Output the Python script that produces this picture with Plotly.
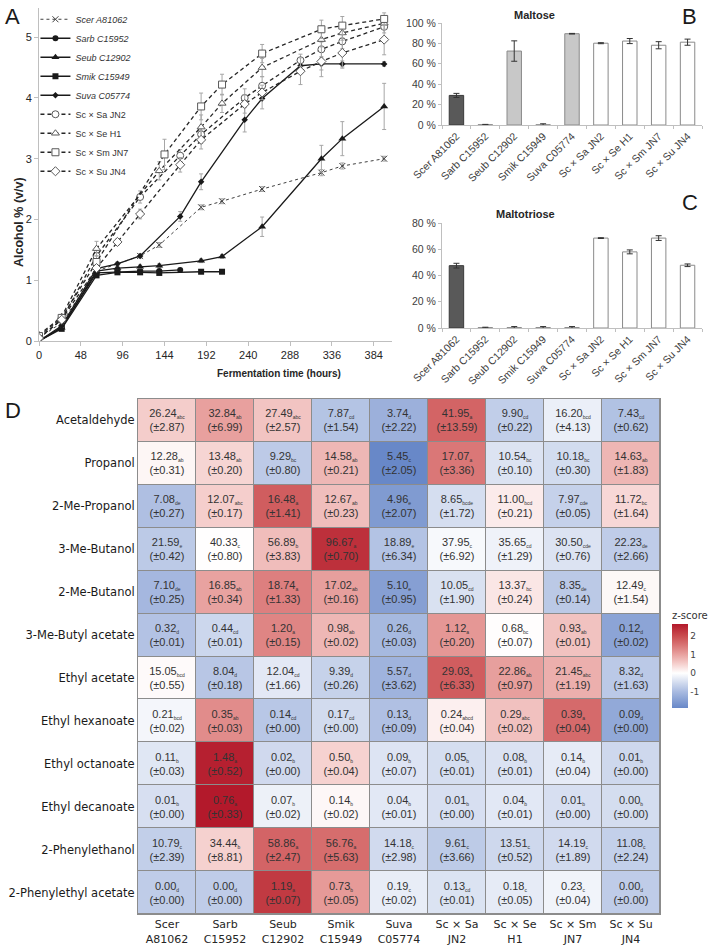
import numpy as np
import plotly.graph_objects as go

# ---- panel A: alcohol during fermentation ----
t_scer = [0, 26, 66, 116, 138, 186, 210, 256, 324, 348, 396]
v_scer = [0.05, 0.3, 1.15, 1.4, 1.58, 2.2, 2.3, 2.5, 2.77, 2.88, 3.0]
e_scer = [0.01, 0.02, 0.03, 0.03, 0.04, 0.04, 0.04, 0.04, 0.05, 0.05, 0.04]

t_sarb = [0, 26, 66, 90, 116, 138, 162]
v_sarb = [0.0, 0.22, 1.12, 1.14, 1.15, 1.15, 1.17]

t_seub = [0, 26, 66, 90, 116, 138, 186, 210, 256, 324, 348, 396]
v_seub = [0.0, 0.22, 1.15, 1.2, 1.22, 1.24, 1.32, 1.39, 1.88, 3.0, 3.33, 3.86]
e_seub = [0, 0.02, 0.03, 0.03, 0.03, 0.03, 0.03, 0.03, 0.16, 0.22, 0.28, 0.38]

t_smik = [0, 26, 66, 90, 116, 138, 186, 210]
v_smik = [0.0, 0.2, 1.08, 1.13, 1.13, 1.12, 1.14, 1.14]

t_suva = [0, 26, 66, 90, 116, 162, 186, 236, 256, 300, 324, 348, 396]
v_suva = [0.0, 0.25, 1.19, 1.27, 1.4, 2.05, 2.62, 3.64, 3.99, 4.53, 4.56, 4.56, 4.56]
e_suva = [0, 0.02, 0.03, 0.03, 0.03, 0.08, 0.13, 0.2, 0.17, 0.1, 0.1, 0.05, 0.04]

t_jn2 = [0, 26, 66, 116, 162, 186, 236, 256, 300, 324, 348, 396]
v_jn2 = [0.05, 0.35, 1.4, 2.37, 3.05, 3.4, 4.0, 4.2, 4.62, 4.8, 4.93, 5.17]
e_jn2 = [0, 0.03, 0.1, 0.1, 0.1, 0.15, 0.15, 0.15, 0.1, 0.12, 0.12, 0.1]

t_h1 = [0, 26, 66, 138, 186, 210, 256, 324, 348, 396]
v_h1 = [0.1, 0.4, 1.52, 2.8, 3.52, 3.91, 4.5, 4.96, 5.07, 5.23]
e_h1 = [0, 0.03, 0.12, 0.15, 0.2, 0.15, 0.15, 0.12, 0.12, 0.1]

t_jn7 = [0, 26, 66, 144, 186, 210, 256, 324, 348, 396]
v_jn7 = [0.08, 0.38, 1.3, 3.07, 3.86, 4.22, 4.73, 5.13, 5.19, 5.3]
e_jn7 = [0, 0.03, 0.1, 0.25, 0.22, 0.17, 0.15, 0.15, 0.15, 0.1]

t_jn4 = [0, 26, 66, 90, 116, 162, 186, 236, 256, 300, 324, 348, 396]
v_jn4 = [0.05, 0.35, 1.2, 1.63, 2.09, 2.9, 3.31, 3.9, 4.09, 4.44, 4.6, 4.74, 4.96]
e_jn4 = [0, 0.03, 0.05, 0.05, 0.08, 0.12, 0.15, 0.15, 0.12, 0.22, 0.25, 0.25, 0.25]

# ---- panels B and C: sugar use ----
bar_strains = ['Scer A81062', 'Sarb C15952', 'Seub C12902', 'Smik C15949', 'Suva C05774',
               'Sc × Sa JN2', 'Sc × Se H1', 'Sc × Sm JN7', 'Sc × Su JN4']
maltose = [29.0, 0.3, 72.5, 0.2, 89.5, 80.2, 82.3, 78.2, 81.2]
maltose_err = [2.0, 0.3, 10.0, 1.0, 0.3, 0.5, 2.5, 3.5, 3.0]
maltotriose = [47.5, 0.3, 0.3, 0.3, 0.3, 68.5, 58.0, 68.5, 47.8]
maltotriose_err = [1.8, 0.3, 0.8, 0.8, 0.8, 0.3, 1.5, 1.8, 1.0]

# ---- panel D: aroma compounds ----
compounds = ['Acetaldehyde', 'Propanol', '2-Me-Propanol', '3-Me-Butanol', '2-Me-Butanol',
             '3-Me-Butyl acetate', 'Ethyl acetate', 'Ethyl hexanoate', 'Ethyl octanoate',
             'Ethyl decanoate', '2-Phenylethanol', '2-Phenylethyl acetate']
col_labels = ['Scer<br>A81062', 'Sarb<br>C15952', 'Seub<br>C12902', 'Smik<br>C15949',
              'Suva<br>C05774', 'Sc × Sa<br>JN2', 'Sc × Se<br>H1', 'Sc × Sm<br>JN7', 'Sc × Su<br>JN4']
means = [
    [26.24, 32.84, 27.49, 7.87, 3.74, 41.95, 9.90, 16.20, 7.43],
    [12.28, 13.48, 9.29, 14.58, 5.45, 17.07, 10.54, 10.18, 14.63],
    [7.08, 12.07, 16.48, 12.67, 4.96, 8.65, 11.00, 7.97, 11.72],
    [21.59, 40.33, 56.89, 96.67, 18.89, 37.95, 35.65, 30.50, 22.23],
    [7.10, 16.85, 18.74, 17.02, 5.10, 10.05, 13.37, 8.35, 12.49],
    [0.32, 0.44, 1.20, 0.98, 0.26, 1.12, 0.68, 0.93, 0.12],
    [15.05, 8.04, 12.04, 9.39, 5.57, 29.03, 22.86, 21.45, 8.32],
    [0.21, 0.35, 0.14, 0.17, 0.13, 0.24, 0.29, 0.39, 0.09],
    [0.11, 1.48, 0.02, 0.50, 0.09, 0.05, 0.08, 0.14, 0.01],
    [0.01, 0.76, 0.07, 0.14, 0.04, 0.01, 0.04, 0.01, 0.00],
    [10.79, 34.44, 58.86, 56.76, 14.18, 9.61, 13.51, 14.19, 11.08],
    [0.00, 0.00, 1.19, 0.73, 0.19, 0.13, 0.18, 0.23, 0.00],
]
sds = [
    [2.87, 6.99, 2.57, 1.54, 2.22, 13.59, 0.22, 4.13, 0.62],
    [0.31, 0.20, 0.80, 0.21, 2.05, 3.36, 0.10, 0.30, 1.83],
    [0.27, 0.17, 1.41, 0.23, 2.07, 1.72, 0.21, 0.05, 1.64],
    [0.42, 0.80, 3.83, 0.70, 6.34, 6.92, 1.29, 0.76, 2.66],
    [0.25, 0.34, 1.33, 0.16, 0.95, 1.90, 0.24, 0.14, 1.54],
    [0.01, 0.01, 0.15, 0.02, 0.03, 0.20, 0.07, 0.01, 0.02],
    [0.55, 0.18, 1.66, 0.26, 3.62, 6.33, 0.97, 1.19, 1.63],
    [0.02, 0.03, 0.00, 0.00, 0.09, 0.04, 0.02, 0.04, 0.00],
    [0.03, 0.52, 0.00, 0.04, 0.07, 0.01, 0.01, 0.04, 0.00],
    [0.00, 0.33, 0.02, 0.02, 0.01, 0.00, 0.01, 0.00, 0.00],
    [2.39, 8.81, 2.47, 5.63, 2.98, 3.66, 0.52, 1.89, 2.24],
    [0.00, 0.00, 0.07, 0.05, 0.02, 0.01, 0.05, 0.04, 0.00],
]
letters = [
    ['abc', 'ab', 'abc', 'cd', 'd', 'a', 'cd', 'bcd', 'cd'],
    ['ab', 'ab', 'bc', 'ab', 'c', 'a', 'bc', 'bc', 'ab'],
    ['de', 'abc', 'a', 'ab', 'e', 'bcde', 'bcd', 'cde', 'bc'],
    ['e', 'c', 'b', 'a', 'e', 'c', 'cd', 'cde', 'de'],
    ['de', 'ab', 'a', 'ab', 'e', 'cd', 'bc', 'de', 'c'],
    ['d', 'cd', 'a', 'ab', 'd', 'a', 'bc', 'ab', 'd'],
    ['bcd', 'd', 'cd', 'd', 'd', 'a', 'ab', 'abc', 'd'],
    ['bcd', 'ab', 'cd', 'cd', 'd', 'abcd', 'abc', 'a', 'd'],
    ['b', 'a', 'b', 'b', 'b', 'b', 'b', 'b', 'b'],
    ['b', 'a', 'b', 'b', 'b', 'b', 'b', 'b', 'b'],
    ['c', 'b', 'a', 'a', 'c', 'c', 'c', 'c', 'c'],
    ['d', 'd', 'a', 'b', 'c', 'cd', 'c', 'c', 'd'],
]

fig = go.Figure()

err_style = dict(type='data', color='#a6a6a6', thickness=1, width=2)
dark = '#1a1a1a'

# parents (solid / dotted), hybrids (dashed, open markers)
fig.add_trace(go.Scatter(x=t_scer, y=v_scer, name='<i>Scer A81062</i>', mode='lines+markers',
                         line=dict(color='#404040', width=1, dash='dot'),
                         marker=dict(symbol='x-thin', size=6, line=dict(color='#404040', width=1)),
                         error_y=dict(array=e_scer, **err_style)))
fig.add_trace(go.Scatter(x=t_sarb, y=v_sarb, name='<i>Sarb C15952</i>', mode='lines+markers',
                         line=dict(color=dark, width=1.3),
                         marker=dict(symbol='circle', size=6, color=dark)))
fig.add_trace(go.Scatter(x=t_seub, y=v_seub, name='<i>Seub C12902</i>', mode='lines+markers',
                         line=dict(color=dark, width=1.3),
                         marker=dict(symbol='triangle-up', size=7, color=dark),
                         error_y=dict(array=e_seub, **err_style)))
fig.add_trace(go.Scatter(x=t_smik, y=v_smik, name='<i>Smik C15949</i>', mode='lines+markers',
                         line=dict(color=dark, width=1.3),
                         marker=dict(symbol='square', size=6, color=dark)))
fig.add_trace(go.Scatter(x=t_suva, y=v_suva, name='<i>Suva C05774</i>', mode='lines+markers',
                         line=dict(color=dark, width=1.3),
                         marker=dict(symbol='diamond', size=5, color=dark),
                         error_y=dict(array=e_suva, **err_style)))

hyb = [('Sc × Sa JN2', t_jn2, v_jn2, e_jn2, 'circle'),
       ('Sc × Se H1', t_h1, v_h1, e_h1, 'triangle-up'),
       ('Sc × Sm JN7', t_jn7, v_jn7, e_jn7, 'square'),
       ('Sc × Su JN4', t_jn4, v_jn4, e_jn4, 'diamond')]
for name, t, v, e, sym in hyb:
    fig.add_trace(go.Scatter(x=t, y=v, name=name, mode='lines+markers',
                             line=dict(color='#262626', width=1.3, dash='4px,3px'),
                             marker=dict(symbol=sym, size=7, color='white',
                                         line=dict(color='#595959', width=1)),
                             error_y=dict(array=e, **err_style)))

# bars
bar_fill = ['#595959', '#c8c8c8', '#c8c8c8', '#c8c8c8', '#c8c8c8',
            'white', 'white', 'white', 'white']
bar_line = ['#3a3a3a', '#8a8a8a', '#8a8a8a', '#8a8a8a', '#8a8a8a',
            '#8a8a8a', '#8a8a8a', '#8a8a8a', '#8a8a8a']
bar_err = dict(type='data', color='#333333', thickness=1, width=3)
fig.add_trace(go.Bar(x=bar_strains, y=maltose, xaxis='x2', yaxis='y2', showlegend=False,
                     marker=dict(color=bar_fill, line=dict(color=bar_line, width=1)),
                     error_y=dict(array=maltose_err, **bar_err)))
fig.add_trace(go.Bar(x=bar_strains, y=maltotriose, xaxis='x3', yaxis='y3', showlegend=False,
                     marker=dict(color=bar_fill, line=dict(color=bar_line, width=1)),
                     error_y=dict(array=maltotriose_err, **bar_err)))

# heatmap: z-score per compound
m = np.array(means)
z = (m - m.mean(axis=1, keepdims=True)) / m.std(axis=1, ddof=1, keepdims=True)
zmin, zmax = z.min(), z.max()
stops = [(-1.0, '#a8bae0'), (-0.5, '#d3dcef'), (0.0, '#ffffff'), (0.5, '#f5cfcd'),
         (1.0, '#e8a19f'), (1.5, '#d97474'), (2.0, '#c94b4e')]
cscale = [[0.0, '#6888c8']]
for zz, c in stops:
    cscale.append([(zz - zmin) / (zmax - zmin), c])
cscale.append([1.0, '#b3192b'])

cell_text = []
for i in range(len(compounds)):
    row = []
    for j in range(len(col_labels)):
        row.append(f"{means[i][j]:.2f}<sub><span style='font-size:5px'>{letters[i][j]}</span></sub>"
                   f"<br>(±{sds[i][j]:.2f})")
    cell_text.append(row)

fig.add_trace(go.Heatmap(z=z, x=col_labels, y=compounds, xaxis='x4', yaxis='y4',
                         text=cell_text, texttemplate='%{text}',
                         textfont=dict(family='Liberation Sans, Arial', size=11, color='#333333'),
                         colorscale=cscale, zmin=zmin, zmax=zmax, xgap=1, ygap=1,
                         colorbar=dict(title=dict(text='z-score', side='top',
                                                  font=dict(family='DejaVu Sans', size=10, color='#333')),
                                       x=672 / 709, xanchor='left', xpad=0,
                                       y=1 - 708 / 950, yanchor='bottom', ypad=0,
                                       thickness=16, len=100, lenmode='pixels',
                                       tickvals=[-1, 0, 1, 2], ticktext=['-1', '0', '1', '2'],
                                       ticks='', outlinewidth=0,
                                       tickfont=dict(family='DejaVu Sans', size=9, color='#444'))))

grey = '#bfbfbf'
tickf = dict(family='Liberation Sans, Arial', size=11, color='#262626')
barf = dict(family='Liberation Sans, Arial', size=10.5, color='#404040')

fig.update_layout(
    width=709, height=950, margin=dict(l=0, r=0, t=0, b=0, autoexpand=False),
    paper_bgcolor='white', plot_bgcolor='white',
    font=dict(family='Liberation Sans, Arial', color='#262626'),
    legend=dict(x=0.05, y=0.995, xanchor='left', yanchor='top', bgcolor='rgba(0,0,0,0)',
                font=dict(size=9, color='#333'), tracegroupgap=0, itemwidth=30),
    xaxis=dict(domain=[39 / 709, 392 / 709], anchor='y', range=[0, 405],
               tickvals=[0, 48, 96, 144, 192, 240, 288, 336, 384], showline=True, linecolor=grey,
               ticks='outside', ticklen=4, tickcolor=grey, showgrid=False, zeroline=False,
               tickfont=tickf),
    yaxis=dict(domain=[1 - 341 / 950, 1 - 8 / 950], anchor='x', range=[0, 5.48], dtick=1,
               showline=True, linecolor=grey, ticks='outside', ticklen=4, tickcolor=grey,
               showgrid=False, zeroline=False, tickfont=tickf),
    xaxis2=dict(domain=[442 / 709, 702 / 709], anchor='y2', tickangle=-45, showline=True,
                linecolor=grey, ticks='outside', tickson='boundaries', ticklen=3, tickcolor=grey,
                tickfont=barf),
    yaxis2=dict(domain=[1 - 125 / 950, 1 - 23 / 950], anchor='x2', range=[0, 100], dtick=20,
                ticksuffix=' %', showline=True, linecolor=grey, ticks='outside', ticklen=3,
                tickcolor=grey, showgrid=False, zeroline=False, tickfont=barf),
    xaxis3=dict(domain=[442 / 709, 702 / 709], anchor='y3', tickangle=-45, showline=True,
                linecolor=grey, ticks='outside', tickson='boundaries', ticklen=3, tickcolor=grey,
                tickfont=barf),
    yaxis3=dict(domain=[1 - 328 / 950, 1 - 223 / 950], anchor='x3', range=[0, 80], dtick=20,
                ticksuffix=' %', showline=True, linecolor=grey, ticks='outside', ticklen=3,
                tickcolor=grey, showgrid=False, zeroline=False, tickfont=barf),
    xaxis4=dict(domain=[138 / 709, 660 / 709], anchor='y4', showgrid=False, zeroline=False,
                showline=True, mirror=True, linecolor='#8c8c8c', ticks='',
                tickfont=dict(family='DejaVu Sans', size=11, color='#262626')),
    yaxis4=dict(domain=[1 - 914 / 950, 1 - 399 / 950], anchor='x4', autorange='reversed',
                showgrid=False, zeroline=False, showline=True, mirror=True, linecolor='#8c8c8c',
                ticks='', tickfont=dict(family='DejaVu Sans', size=11.5, color='#1a1a1a')),
    bargap=0.5,
)

# grid lines between heatmap cells
fig.add_shape(type='rect', xref='x4 domain', yref='y4 domain', x0=0, x1=1, y0=0, y1=1,
              fillcolor='#8c8c8c', line=dict(width=0), layer='below')

ann = [
    dict(text='A', x=3 / 709, y=1 - 2 / 950, size=22),
    dict(text='B', x=680 / 709, y=1 - 2 / 950, size=22),
    dict(text='C', x=680 / 709, y=1 - 188 / 950, size=22),
    dict(text='D', x=3 / 709, y=1 - 396 / 950, size=22),
]
for a in ann:
    fig.add_annotation(text=a['text'], x=a['x'], y=a['y'], xref='paper', yref='paper',
                       xanchor='left', yanchor='top', showarrow=False,
                       font=dict(family='Liberation Sans, Arial', size=a['size'], color='#1a1a1a'))

fig.add_annotation(text='<b>Alcohol % (v/v)</b>', x=10 / 709, y=1 - 175 / 950, xref='paper',
                   yref='paper', textangle=-90, showarrow=False,
                   font=dict(size=12.5, color='#262626'))
fig.add_annotation(text='<b>Fermentation time (hours)</b>', x=215 / 709, y=1 - 373 / 950,
                   xref='paper', yref='paper', showarrow=False, font=dict(size=10, color='#262626'))
fig.add_annotation(text='<b>Maltose</b>', x=557 / 709, y=1 - 7 / 950, xref='paper', yref='paper',
                   showarrow=False, font=dict(size=11, color='#262626'))
fig.add_annotation(text='<b>Maltotriose</b>', x=557 / 709, y=1 - 206 / 950, xref='paper',
                   yref='paper', showarrow=False, font=dict(size=11, color='#262626'))

# drop the default page margin so the figure sits at the window's corner
fig.write_html("out.html", config={'displayModeBar': False},
               post_script="document.body.style.margin='0px';")
